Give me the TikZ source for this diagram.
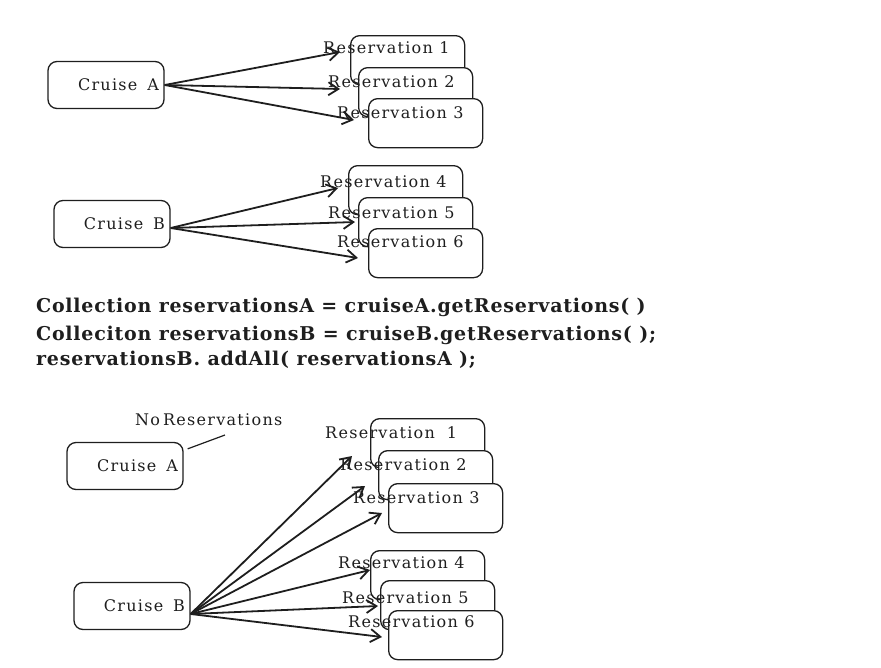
\documentclass[tikz,border=0pt]{standalone}
\usepackage{fontspec}
\usetikzlibrary{arrows.meta}
\newfontfamily\labelfont[LetterSpace=8]{DejaVu Serif}
\newfontfamily\codefont[LetterSpace=4]{DejaVu Serif}
\definecolor{ink}{HTML}{1E1E1E}

\begin{document}
\begin{tikzpicture}[x=1pt,y=-1pt,
  every node/.style={text=ink},
  cruise/.style={draw=ink, line width=1.3pt, rounded corners=9pt, fill=white,
    minimum width=116pt, minimum height=47pt, text width=106pt, align=right,
    inner sep=5pt, font=\labelfont\fontsize{16}{19}\selectfont},
  resbox/.style={draw=ink, line width=1.3pt, rounded corners=9pt, fill=white,
    minimum width=114pt, minimum height=49pt, anchor=north west, inner sep=0pt},
  reslabel/.style={anchor=west, inner sep=0pt, font=\labelfont\fontsize{16}{19}\selectfont},
  link/.style={draw=ink, line width=1.8pt, -{Straight Barb[length=10pt,width=13pt]}},
  code/.style={anchor=base west, inner sep=0pt, font=\codefont\bfseries\fontsize{19}{22}\selectfont}
]
\useasboundingbox (0,0) rectangle (881,667);

% ---------- Cruise A with reservations 1-3 ----------
\node[cruise] (ca) at (106,85) {Cruise\hspace{10pt}A};
\node[resbox] (ra1) at (350,35) {};
\node[resbox] (ra2) at (358,67) {};
\node[resbox] (ra3) at (368,98) {};
\node[reslabel] (la1) at (323,48) {Reservation 1};
\node[reslabel] (la2) at (328,82) {Reservation 2};
\node[reslabel] (la3) at (337,113) {Reservation 3};
\coordinate (ta1) at (340,52);
\coordinate (ta2) at (340,89);
\coordinate (ta3) at (354,120);
\draw[link] (ca.east) -- (ta1);
\draw[link] (ca.east) -- (ta2);
\draw[link] (ca.east) -- (ta3);

% ---------- Cruise B with reservations 4-6 ----------
\node[cruise] (cb) at (112,224) {Cruise\hspace{10pt}B};
\node[resbox] (rb4) at (348,165) {};
\node[resbox] (rb5) at (358,197) {};
\node[resbox] (rb6) at (368,228) {};
\node[reslabel] (lb4) at (320,182) {Reservation 4};
\node[reslabel] (lb5) at (328,213) {Reservation 5};
\node[reslabel] (lb6) at (337,242) {Reservation 6};
\coordinate (tb4) at (338,188);
\coordinate (tb5) at (355,222);
\coordinate (tb6) at (358,258);
\draw[link] ([yshift=-4pt]cb.east) -- (tb4);
\draw[link] ([yshift=-4pt]cb.east) -- (tb5);
\draw[link] ([yshift=-4pt]cb.east) -- (tb6);

% ---------- Code ----------
\node[code] (c1) at (36,312) {Collection reservationsA = cruiseA.getReservations( )};
\node[code] (c2) at (36,340) {Colleciton reservationsB = cruiseB.getReservations( );};
\node[code] (c3) at (36,365) {reservationsB. addAll( reservationsA );};

% ---------- After addAll ----------
\node[cruise] (cA) at (125,466) {Cruise\hspace{10pt}A};
\node[reslabel] (none) at (135,420) {No\hspace{3pt}Reservations};
\coordinate (nonept) at (225,435);
\draw[draw=ink, line width=1.2pt] ([shift={(4pt,-7pt)}]cA.north east) -- (nonept);

\node[cruise] (cB) at (132,606) {Cruise\hspace{10pt}B};

\node[resbox] (s1) at (370,418) {};
\node[resbox] (s2) at (378,450) {};
\node[resbox] (s3) at (388,483) {};
\node[reslabel] (m1) at (325,433) {Reservation\hspace{12pt}1};
\node[reslabel] (m2) at (340,465) {Reservation 2};
\node[reslabel] (m3) at (353,498) {Reservation 3};

\node[resbox] (s4) at (370,550) {};
\node[resbox] (s5) at (380,580) {};
\node[resbox] (s6) at (388,610) {};
\node[reslabel] (m4) at (338,563) {Reservation 4};
\node[reslabel] (m5) at (342,598) {Reservation 5};
\node[reslabel] (m6) at (348,622) {Reservation 6};

\coordinate (u1) at (352,456);
\coordinate (u2) at (365,486);
\coordinate (u3) at (382,513);
\coordinate (u4) at (370,570);
\coordinate (u5) at (378,606);
\coordinate (u6) at (382,637);
\foreach \t in {u1,u2,u3,u4,u5,u6}
  \draw[link] ([yshift=-8pt]cB.east) -- (\t);
\end{tikzpicture}
\end{document}
